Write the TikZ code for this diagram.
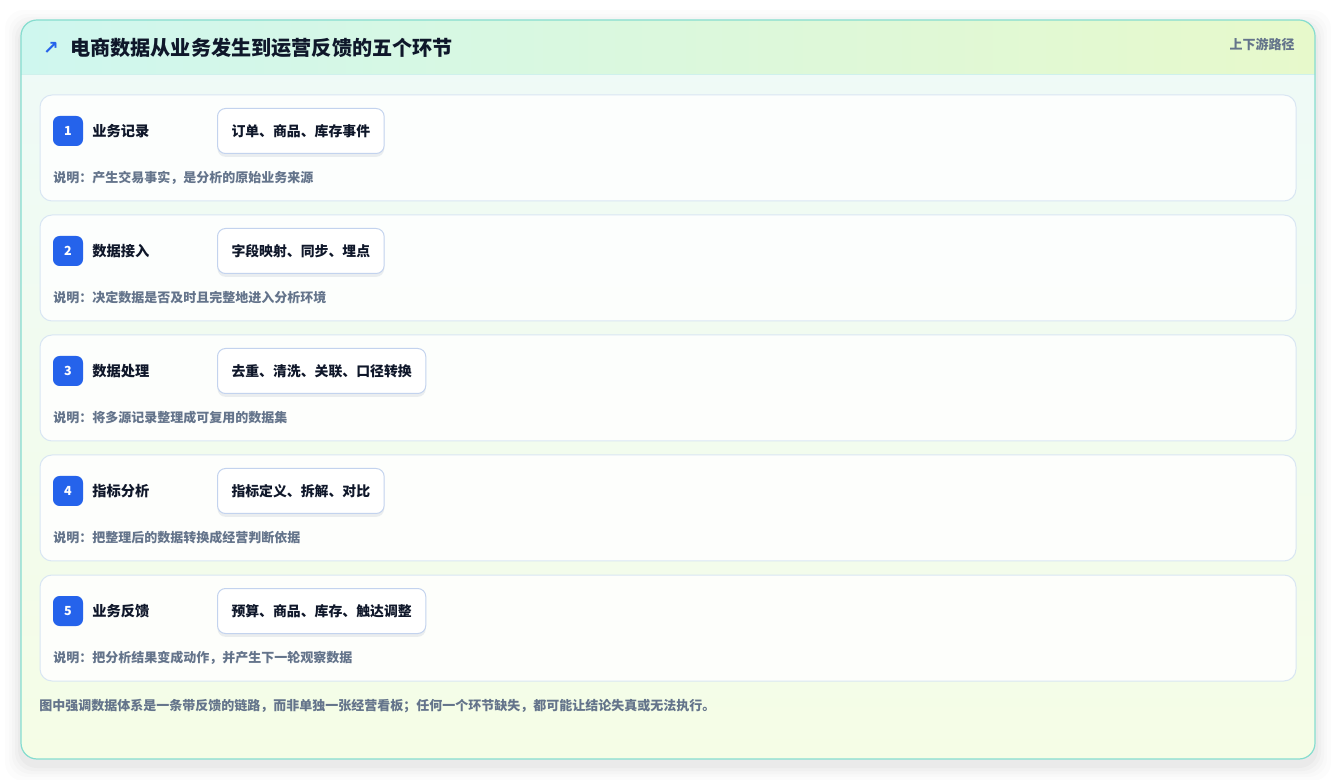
\documentclass[tikz,border=0pt]{standalone}
\usepackage{fontspec}
\setmainfont{Noto Sans CJK SC}
\newfontfamily\symfont{DejaVu Sans}
\usetikzlibrary{positioning,shadows}
\definecolor{cardborder}{HTML}{86DDCF}
\definecolor{headL}{HTML}{CFF7EF}
\definecolor{headR}{HTML}{E7F9CB}
\definecolor{bodyT}{HTML}{EEFAF8}
\definecolor{bodyB}{HTML}{F5FDE6}
\definecolor{rowborder}{HTML}{D9E6F3}
\definecolor{badgeblue}{HTML}{2563EB}
\definecolor{ink}{HTML}{0F172A}
\definecolor{muted}{HTML}{64748B}
\definecolor{pillborder}{HTML}{C3D3EE}
\definecolor{pillshadow}{HTML}{94A3B8}
\tikzset{
  rowcard/.style={draw=rowborder, line width=0.75pt, fill=white, fill opacity=0.85, draw opacity=1, rounded corners=9pt},
  badge/.style={fill=badgeblue, rounded corners=5pt, minimum width=22.5pt, minimum height=22.5pt, inner sep=0pt, text=white, font=\bfseries\fontsize{9.4}{9}\selectfont},
  steplabel/.style={anchor=west, inner sep=0pt, text=ink, font=\bfseries\fontsize{10.7}{12}\selectfont},
  pill/.style={draw=pillborder, line width=0.75pt, fill=white, rounded corners=6pt, minimum height=33.75pt, inner xsep=10.5pt, anchor=west, text=ink, font=\bfseries\fontsize{10.4}{12}\selectfont,
    drop shadow={shadow xshift=0pt, shadow yshift=-2.5pt, opacity=0.18, fill=pillshadow}},
  desc/.style={anchor=west, inner sep=0pt, text=muted, font=\bfseries\fontsize{9.75}{11}\selectfont},
}
\begin{document}
\begin{tikzpicture}[x=0.75pt,y=-0.75pt]
\useasboundingbox (0,0) rectangle (1336,780);
\fill[white] (0,0) rectangle (1336,780);
% outer shadow
\foreach \s/\o in {16/0.010,12/0.012,9/0.015,6/0.018,3/0.022}{
  \fill[black,opacity=\o,rounded corners=14pt] (21-\s,20-\s+6) rectangle (1315+\s,759+\s+6);
}
% card body
\shade[top color=bodyT, bottom color=bodyB, rounded corners=12pt] (21,20) rectangle (1315,759);
\begin{scope}
  \clip[rounded corners=12pt] (21,20) rectangle (1315,759);
  \shade[left color=headL, right color=headR] (21,20) rectangle (1315,75);
  \draw[color=cardborder!40, line width=0.75pt] (21,75) -- (1315,75);
\end{scope}
\draw[cardborder, line width=0.9pt, rounded corners=12pt] (21,20) rectangle (1315,759);
% header
\node[anchor=center, inner sep=0pt, text=badgeblue, font=\symfont\bfseries\fontsize{14}{14}\selectfont] (arrow) at (51,48) {↗};
\node[anchor=west, inner sep=0pt, text=ink, font=\bfseries\fontsize{15.1}{16}\selectfont] (title) at (70,48) {电商数据从业务发生到运营反馈的五个环节};
\node[anchor=east, inner sep=0pt, text=muted, font=\bfseries\fontsize{9.75}{11}\selectfont] (tag) at (1295,44) {上下游路径};
% rows
\foreach \i/\lab/\pt/\ds [count=\k from 0] in {
  1/业务记录/订单、商品、库存事件/说明：产生交易事实，是分析的原始业务来源,
  2/数据接入/字段映射、同步、埋点/说明：决定数据是否及时且完整地进入分析环境,
  3/数据处理/去重、清洗、关联、口径转换/说明：将多源记录整理成可复用的数据集,
  4/指标分析/指标定义、拆解、对比/说明：把整理后的数据转换成经营判断依据,
  5/业务反馈/预算、商品、库存、触达调整/说明：把分析结果变成动作，并产生下一轮观察数据}{
  \pgfmathsetmacro{\top}{95+120*\k}
  \draw[rowcard] (40,\top) rectangle (1296,\top+106);
  \node[badge] (badge\i) at (68,\top+36) {\i};
  \node[steplabel] (label\i) at (92,\top+36) {\lab};
  \node[pill] (pill\i) at (217,\top+36) {\pt};
  \node[desc] (desc\i) at (53,\top+83) {\ds};
}
\node[anchor=west, inner sep=0pt, text=muted, font=\bfseries\fontsize{9.75}{11}\selectfont] (footer) at (39,706) {图中强调数据体系是一条带反馈的链路，而非单独一张经营看板；任何一个环节缺失，都可能让结论失真或无法执行。};
\end{tikzpicture}
\end{document}
